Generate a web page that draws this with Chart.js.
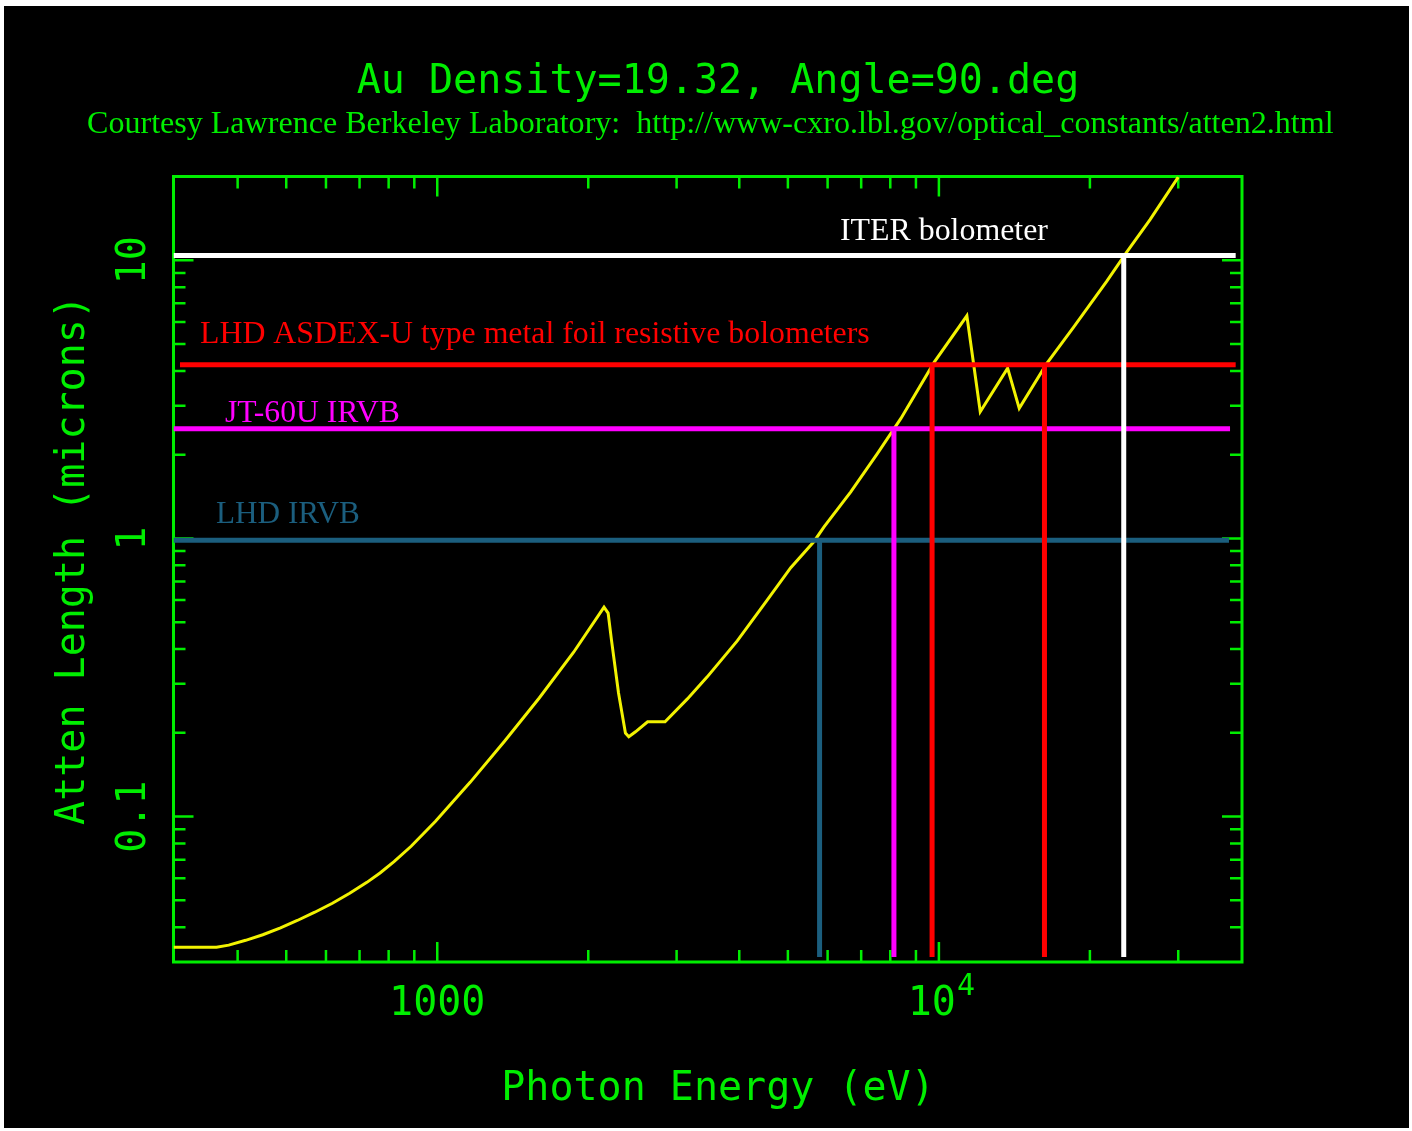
<!DOCTYPE html>
<html>
<head>
<meta charset="utf-8">
<script src="https://cdn.jsdelivr.net/npm/chart.js@4.4.1/dist/chart.umd.min.js"></script>
<style>
  html, body { margin: 0; padding: 0; background: #ffffff; }
  #wrap { position: absolute; left: 0; top: 0; width: 1412px; height: 1131px; }
</style>
</head>
<body>
<div id="wrap"><canvas id="c" width="1412" height="1131"></canvas></div>
<script>
// ---------------- DATA ----------------
const titleText = 'Au Density=19.32, Angle=90.deg';
const subtitleText = 'Courtesy Lawrence Berkeley Laboratory:  http://www-cxro.lbl.gov/optical_constants/atten2.html';
const xAxisTitle = 'Photon Energy (eV)';
const yAxisTitle = 'Atten Length (microns)';

// Au attenuation length curve (photon energy in eV, attenuation length in microns)
const curveEnergy = [298, 363, 384, 415, 449, 487, 526, 570, 618, 669, 724, 769, 820, 887, 991, 1164, 1363, 1597, 1870, 2150, 2191, 2225, 2298, 2372, 2409, 2484, 2626, 2845, 3152, 3453, 3963, 4550, 5066, 5637, 5902, 6673, 7545, 8135, 8400, 9790, 11370, 11720, 12090, 13710, 14110, 14460, 16400, 18530, 21600, 23680, 26360, 30000];
const curveAtten  = [0.0339, 0.0339, 0.0345, 0.0359, 0.0376, 0.0398, 0.0423, 0.0453, 0.0488, 0.0530, 0.0580, 0.0627, 0.0688, 0.0782, 0.0960, 0.1330, 0.1868, 0.2668, 0.3897, 0.566, 0.539, 0.431, 0.278, 0.1995, 0.1935, 0.2017, 0.2191, 0.2191, 0.2648, 0.3178, 0.428, 0.601, 0.785, 0.975, 1.10, 1.47, 2.02, 2.477, 2.70, 4.30, 6.313, 4.273, 2.852, 4.09, 3.421, 2.933, 4.25, 5.72, 8.4, 10.7, 14.0, 19.9];

// Reference detector thicknesses (horizontal lines) and crossing energies (vertical lines)
const refNames   = ['ITER bolometer', 'LHD ASDEX-U type metal foil resistive bolometers', 'JT-60U IRVB', 'LHD IRVB'];
const refAtten   = [10.4, 4.21, 2.48, 0.984];
const refFromEnergy = [298, 307, 298, 298];
const refToEnergy   = [39050, 39050, 38050, 37870];
const refCrossEnergy = [[23360], [9692, 16235], [8135], [5783]];
const verticalFloorAtten = 0.0313;

// Axis ranges and ticks
const xMin = 298, xMax = 40200;
const yMin = 0.03, yMax = 20;
const xMajorTicks = [1000, 10000];
const xMinorTicks = [400, 500, 600, 700, 800, 900, 2000, 3000, 4000, 5000, 6000, 7000, 8000, 9000, 20000, 30000];
const xTickLabels = ['1000', '10|4'];
const yMajorTicks = [0.1, 1, 10];
const yMinorTicks = [0.04, 0.05, 0.06, 0.07, 0.08, 0.09, 0.2, 0.3, 0.4, 0.5, 0.6, 0.7, 0.8, 0.9, 2, 3, 4, 5, 6, 7, 8, 9];
const yTickLabels = ['0.1', '1', '10'];

// ---------------- STYLE ----------------
const GREEN = '#00ee00';
const refColors = ['#ffffff', '#ff0000', '#ff00ff', '#1b5e7e'];
const MONO = '"DejaVu Sans Mono", monospace';
const SERIF = '"Liberation Serif", "Times New Roman", serif';
// label placement (pixels): left x, baseline y, target width
const refLabelLayout = [
  { x: 840, y: 240, w: 208 },
  { x: 200, y: 343, w: 670 },
  { x: 225, y: 421.5, w: 175 },
  { x: 216, y: 523.3, w: 144 }
];

function fitSize(ctx, text, family, targetW) {
  ctx.font = '100px ' + family;
  return 100 * targetW / ctx.measureText(text).width;
}

const bgPlugin = {
  id: 'bg',
  beforeDraw(chart) {
    const c = chart.ctx;
    c.save();
    c.fillStyle = '#ffffff';
    c.fillRect(0, 0, chart.width, chart.height);
    c.fillStyle = '#000000';
    c.fillRect(4, 6, 1405, 1122);
    c.restore();
  }
};

const framePlugin = {
  id: 'frame',
  beforeDatasetsDraw(chart) {
    const c = chart.ctx, a = chart.chartArea;
    const xs = chart.scales.x, ys = chart.scales.y;
    c.save();
    c.strokeStyle = GREEN;
    c.lineWidth = 2.5;
    c.beginPath();
    const tick = (vals, len) => {
      vals.forEach(v => {
        const px = xs.getPixelForValue(v);
        c.moveTo(px, a.bottom); c.lineTo(px, a.bottom - len);
        c.moveTo(px, a.top); c.lineTo(px, a.top + len);
      });
    };
    const ytick = (vals, len) => {
      vals.forEach(v => {
        const py = ys.getPixelForValue(v);
        c.moveTo(a.left, py); c.lineTo(a.left + len, py);
        c.moveTo(a.right, py); c.lineTo(a.right - len, py);
      });
    };
    tick(xMajorTicks, 20); tick(xMinorTicks, 12);
    ytick(yMajorTicks, 20); ytick(yMinorTicks, 12);
    c.stroke();
    c.lineWidth = 3;
    c.strokeRect(a.left, a.top, a.right - a.left, a.bottom - a.top);
    c.restore();
  },
  afterDraw(chart) {
    const c = chart.ctx;
    const xs = chart.scales.x, ys = chart.scales.y;
    c.save();
    c.fillStyle = GREEN;
    c.textBaseline = 'alphabetic';
    // title
    c.font = '40px ' + MONO;
    c.textAlign = 'center';
    c.fillText(titleText, 718, 93);
    // subtitle
    const fs = fitSize(c, subtitleText, SERIF, 1247);
    c.font = fs + 'px ' + SERIF;
    c.textAlign = 'left';
    c.fillText(subtitleText, 87, 133);
    // x tick labels
    xMajorTicks.forEach((v, i) => {
      const px = xs.getPixelForValue(v);
      const lab = xTickLabels[i];
      if (lab.indexOf('|') >= 0) {
        const parts = lab.split('|');
        c.font = '40px ' + MONO;
        c.textAlign = 'right';
        c.fillText(parts[0], px + 17, 1015);
        c.font = '30px ' + MONO;
        c.textAlign = 'left';
        c.fillText(parts[1], px + 18, 995);
      } else {
        c.font = '40px ' + MONO;
        c.textAlign = 'center';
        c.fillText(lab, px, 1015);
      }
    });
    // x axis title
    c.font = '40px ' + MONO;
    c.textAlign = 'center';
    c.fillText(xAxisTitle, 718, 1100);
    // y tick labels (rotated)
    yMajorTicks.forEach((v, i) => {
      const py = ys.getPixelForValue(v);
      c.save();
      c.translate(145, py);
      c.rotate(-Math.PI / 2);
      c.font = '40px ' + MONO;
      c.textAlign = 'center';
      c.fillText(yTickLabels[i], 0, 0);
      c.restore();
    });
    // y axis title
    c.save();
    c.translate(84, 560);
    c.rotate(-Math.PI / 2);
    c.font = '40px ' + MONO;
    c.textAlign = 'center';
    c.fillText(yAxisTitle, 0, 0);
    c.restore();
    // reference labels
    refNames.forEach((name, i) => {
      const L = refLabelLayout[i];
      const s = fitSize(c, name, SERIF, L.w);
      c.font = s + 'px ' + SERIF;
      c.fillStyle = refColors[i];
      c.textAlign = 'left';
      c.fillText(name, L.x, L.y);
    });
    c.restore();
  }
};

// ---------------- DATASETS ----------------
const datasets = [];
refNames.forEach((name, i) => {
  datasets.push({
    label: name,
    data: [{ x: refFromEnergy[i], y: refAtten[i] }, { x: refToEnergy[i], y: refAtten[i] }],
    borderColor: refColors[i], borderWidth: 5, borderCapStyle: 'butt', pointRadius: 0, order: 1
  });
  refCrossEnergy[i].forEach(e => {
    datasets.push({
      label: name + ' cross',
      data: [{ x: e, y: refAtten[i] }, { x: e, y: verticalFloorAtten }],
      borderColor: refColors[i], borderWidth: 5, borderCapStyle: 'butt', pointRadius: 0, order: 1
    });
  });
});
datasets.push({
  label: 'Au attenuation length',
  data: curveEnergy.map((e, i) => ({ x: e, y: curveAtten[i] })),
  borderColor: '#f2f200', borderWidth: 3, pointRadius: 0, tension: 0, order: 2
});

new Chart(document.getElementById('c'), {
  type: 'line',
  data: { datasets },
  options: {
    responsive: false,
    devicePixelRatio: 1,
    animation: false,
    layout: { padding: { left: 173.5, right: 170, top: 176.5, bottom: 169 } },
    plugins: { legend: { display: false }, tooltip: { enabled: false } },
    scales: {
      x: { type: 'logarithmic', min: xMin, max: xMax, display: false },
      y: { type: 'logarithmic', min: yMin, max: yMax, display: false }
    }
  },
  plugins: [bgPlugin, framePlugin]
});
</script>
</body>
</html>
